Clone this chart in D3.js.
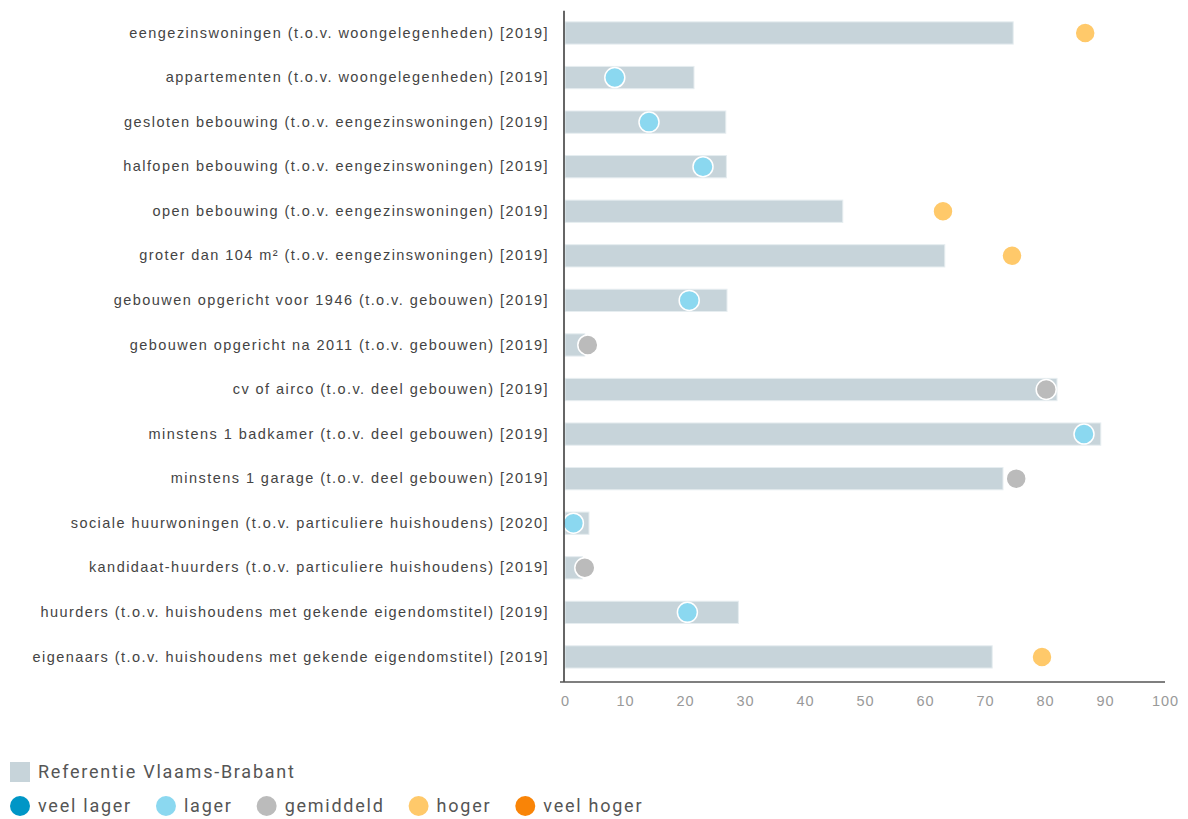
<!DOCTYPE html>
<html>
<head>
<meta charset="utf-8">
<script src="https://cdn.jsdelivr.net/npm/d3@7"></script>
<style>
  body { margin: 0; background: #fff; font-family: Roboto, 'Liberation Sans', Arial, sans-serif; }
  .y.axis text { fill: #444; font-size: 14.5px; letter-spacing: 1.45px; }
  .x.axis text { fill: #999; font-size: 14.5px; letter-spacing: 1px; }
  .legend text { fill: #555; font-size: 18px; letter-spacing: 1.75px; }
</style>
</head>
<body>
<script>
// Categories (top to bottom)
const categories = [
    'eengezinswoningen (t.o.v. woongelegenheden) [2019]',
    'appartementen (t.o.v. woongelegenheden) [2019]',
    'gesloten bebouwing (t.o.v. eengezinswoningen) [2019]',
    'halfopen bebouwing (t.o.v. eengezinswoningen) [2019]',
    'open bebouwing (t.o.v. eengezinswoningen) [2019]',
    'groter dan 104 m² (t.o.v. eengezinswoningen) [2019]',
    'gebouwen opgericht voor 1946 (t.o.v. gebouwen) [2019]',
    'gebouwen opgericht na 2011 (t.o.v. gebouwen) [2019]',
    'cv of airco (t.o.v. deel gebouwen) [2019]',
    'minstens 1 badkamer (t.o.v. deel gebouwen) [2019]',
    'minstens 1 garage (t.o.v. deel gebouwen) [2019]',
    'sociale huurwoningen (t.o.v. particuliere huishoudens) [2020]',
    'kandidaat-huurders (t.o.v. particuliere huishoudens) [2019]',
    'huurders (t.o.v. huishoudens met gekende eigendomstitel) [2019]',
    'eigenaars (t.o.v. huishoudens met gekende eigendomstitel) [2019]'
];

// Reference values (Vlaams-Brabant)
const referenceValues = [74.7, 21.5, 26.8, 26.9, 46.3, 63.3, 27.0, 3.3, 82.0, 89.3, 73.0, 4.0, 2.9, 28.9, 71.2];

// Municipality values (dots)
const municipalityValues = [86.7, 8.3, 14.0, 23.0, 63.0, 74.5, 20.7, 3.8, 80.2, 86.5, 75.2, 1.4, 3.3, 20.4, 79.5];

// Comparison class per category
const comparison = ['hoger', 'lager', 'lager', 'lager', 'hoger', 'hoger', 'lager', 'gemiddeld',
    'gemiddeld', 'lager', 'gemiddeld', 'lager', 'gemiddeld', 'lager', 'hoger'];

// Legend classes
const classes = ['veel lager', 'lager', 'gemiddeld', 'hoger', 'veel hoger'];
const classColors = ['#0096c6', '#8bd8f0', '#bbbbbb', '#ffc96a', '#f98407'];
const referenceLabel = 'Referentie Vlaams-Brabant';

const xTicks = [0, 10, 20, 30, 40, 50, 60, 70, 80, 90, 100];

const margin = { top: 10.7, left: 565 };
const totalWidth = 1188;
const totalHeight = 819;
const bandHeight = 668.5; // rows area
const axisY = 671.3; // bottom axis line, relative to top

const svg = d3.select('body')
    .append('svg')
    .attr('width', totalWidth)
    .attr('height', totalHeight);

const g = svg.append('g').attr('transform', `translate(${margin.left},${margin.top})`);

// Scales
const xscale = d3.scaleLinear().domain([0, 100]).range([0, 600]);
const yscale = d3.scaleBand().domain(categories).range([0, bandHeight]).paddingInner(0.5).paddingOuter(0.25);
const color = d3.scaleOrdinal().domain(classes).range(classColors);

// Bars
g.selectAll('rect.ref')
    .data(referenceValues)
    .join('rect')
    .attr('class', 'ref')
    .attr('x', xscale(0))
    .attr('y', (d, i) => yscale(categories[i]))
    .attr('width', (d) => xscale(d) - xscale(0))
    .attr('height', yscale.bandwidth())
    .attr('fill', '#c7d4da')
    .attr('stroke', '#e6edf0')
    .attr('stroke-width', 1);

// Dots
g.selectAll('circle.val')
    .data(municipalityValues)
    .join('circle')
    .attr('class', 'val')
    .attr('cx', (d) => xscale(d))
    .attr('cy', (d, i) => yscale(categories[i]) + yscale.bandwidth() / 2)
    .attr('r', 10)
    .attr('fill', (d, i) => color(comparison[i]))
    .attr('stroke', '#fff')
    .attr('stroke-width', 1.5);

// Axes
const yaxis = d3.axisLeft(yscale).tickSize(0).tickPadding(16);
const g_yaxis = g.append('g').attr('class', 'y axis').call(yaxis);
g_yaxis.select('.domain').remove();
g.append('line')
    .attr('x1', -1).attr('x2', -1)
    .attr('y1', 0).attr('y2', axisY)
    .attr('stroke', '#333').attr('stroke-width', 1.5);

const xaxis = d3.axisBottom(xscale).tickValues(xTicks).tickSize(0).tickPadding(14);
const g_xaxis = g.append('g').attr('class', 'x axis')
    .attr('transform', `translate(0,${axisY})`)
    .call(xaxis);
g_xaxis.select('.domain').remove();
g.append('line')
    .attr('x1', -5).attr('x2', xscale(100))
    .attr('y1', axisY).attr('y2', axisY)
    .attr('stroke', '#555').attr('stroke-width', 1.5);

// Legend
const legend = svg.append('g').attr('class', 'legend');
legend.append('rect')
    .attr('x', 10).attr('y', 762)
    .attr('width', 20).attr('height', 20)
    .attr('fill', '#c7d4da');
legend.append('text')
    .attr('x', 38).attr('y', 772)
    .attr('dy', '0.35em')
    .text(referenceLabel);

let lx = 10;
classes.forEach((c) => {
    const item = legend.append('g').attr('transform', `translate(${lx},806)`);
    item.append('circle').attr('cx', 10).attr('cy', 0).attr('r', 10).attr('fill', color(c));
    const t = item.append('text').attr('x', 28).attr('dy', '0.35em').text(c);
    lx += 28 + t.node().getComputedTextLength() + 24;
});
</script>
</body>
</html>
